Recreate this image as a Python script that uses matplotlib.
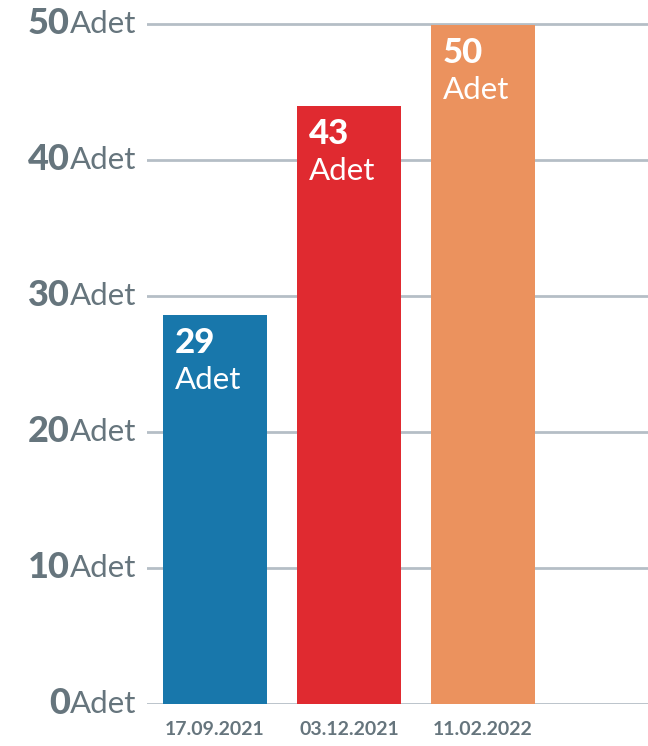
import matplotlib
matplotlib.use('Agg')
import matplotlib.pyplot as plt
import matplotlib.transforms as mtransforms

plt.rcParams['font.family'] = ['Lato', 'DejaVu Sans']

# data
dates = ['17.09.2021', '03.12.2021', '11.02.2022']
heights = [28.6, 44.0, 49.9]        # bar heights as drawn in the picture
value_labels = ['29', '43', '50']   # values printed on the bars
colors = ['#1877ab', '#e02a30', '#eb925e']
yticks = [0, 10, 20, 30, 40, 50]
unit = 'Adet'

gray = '#66757d'
grid = '#b5bec6'

fig = plt.figure(figsize=(6.48, 7.46), dpi=100)
ax = fig.add_axes([147 / 648, 1 - 704 / 746, 1 - 147 / 648, (704 - 10.4) / 746])

x = list(range(len(dates)))
ax.bar(x, heights, width=0.776, color=colors, zorder=2)
ax.set_xlim(-0.507, 3.23)
ax.set_ylim(0, 51)

for v in yticks:
    ax.axhline(v, color=grid, lw=2, zorder=1)

for s in ax.spines.values():
    s.set_visible(False)
ax.set_yticks([])
ax.set_xticks(x)
ax.set_xticklabels(dates, fontsize=14, fontweight='bold', color=gray)
ax.tick_params(axis='x', length=0, pad=12)

# y tick labels: heavy number + regular unit
tr = mtransforms.blended_transform_factory(fig.transFigure, ax.transData)
for v in yticks:
    ax.text(70 / 648, v, str(v), transform=tr, ha='right', va='center',
            fontsize=26, fontweight='black', color=gray)
    ax.text(70 / 648, v, unit, transform=tr, ha='left', va='center',
            fontsize=22.5, color=gray)

# bar labels
for xi, h, lab in zip(x, heights, value_labels):
    left = xi - 0.776 / 2
    ax.annotate(lab, xy=(left, h), xytext=(12, -12), textcoords='offset pixels',
                ha='left', va='top', fontsize=25, fontweight='black', color='white', zorder=3)
    ax.annotate(unit, xy=(left, h), xytext=(12, -51), textcoords='offset pixels',
                ha='left', va='top', fontsize=22.5, color='white', zorder=3)

fig.savefig('out.png', dpi=100)
